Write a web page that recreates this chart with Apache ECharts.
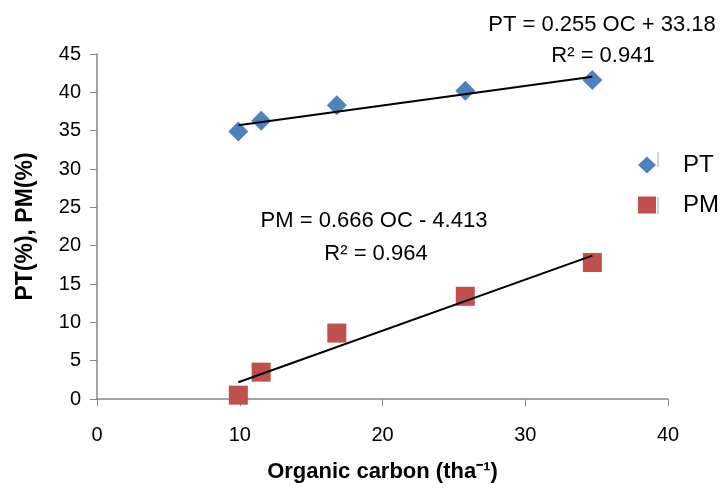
<!DOCTYPE html>
<html>
<head>
<meta charset="utf-8">
<script src="https://cdn.jsdelivr.net/npm/echarts@6/dist/echarts.min.js"></script>
<style>
  html, body { margin: 0; padding: 0; background: #fff; }
  #chart { width: 724px; height: 488px; }
</style>
</head>
<body>
<div id="chart"></div>
<script>
var oc = [9.9, 11.5, 16.8, 25.8, 34.7];
var pt = [34.9, 36.3, 38.3, 40.2, 41.6];
var pm = [0.5, 3.5, 8.6, 13.4, 17.8];
var xTicks = [0, 10, 20, 30, 40];
var yTicks = [0, 5, 10, 15, 20, 25, 30, 35, 40, 45];

// trend lines from the fitted equations
var ptFit = { a: 0.255, b: 33.18 };
var pmFit = { a: 0.666, b: -4.413 };
var x0 = oc[0], x1 = oc[oc.length - 1];
function fitLine(f) {
    return [[x0, f.a * x0 + f.b], [x1, f.a * x1 + f.b]];
}

var font = 'Liberation Sans';
function eqText(txt, x, y) {
    return {
        type: 'text', x: x, y: y,
        style: { text: txt, fontSize: 22, fill: '#000', fontFamily: font, align: 'center', verticalAlign: 'middle' }
    };
}
function grayTick(y0, y1) {
    return {
        type: 'line',
        shape: { x1: 658, y1: y0, x2: 658, y2: y1 },
        style: { stroke: '#A6A6A6', lineWidth: 1 }
    };
}

var myChart = echarts.init(document.getElementById('chart'));
var option = {
    animation: false,
    textStyle: { fontFamily: font },
    grid: { left: 97, right: 56, top: 54, bottom: 88 },
    legend: {
        orient: 'vertical',
        left: 633,
        top: 148,
        itemGap: 16,
        itemWidth: 18,
        itemHeight: 17,
        textStyle: { fontSize: 24, lineHeight: 24, color: '#000', fontFamily: font, padding: [0, 0, 0, 22] },
        data: [
            { name: 'PT', icon: 'diamond' },
            { name: 'PM', icon: 'rect' }
        ]
    },
    xAxis: {
        type: 'value',
        min: 0,
        max: 40,
        interval: 10,
        splitLine: { show: false },
        axisLine: { lineStyle: { color: '#868686', width: 1.5 } },
        axisTick: { show: true, length: 7, lineStyle: { color: '#868686' } },
        axisLabel: { fontSize: 20, color: '#000', margin: 26 },
        name: 'Organic carbon (tha⁻¹)',
        nameLocation: 'middle',
        nameGap: 62,
        nameTextStyle: { fontSize: 22, fontWeight: 'bold', color: '#000' }
    },
    yAxis: {
        type: 'value',
        min: 0,
        max: 45,
        interval: 5,
        splitLine: { show: false },
        axisLine: { show: true, lineStyle: { color: '#868686', width: 1.5 } },
        axisTick: { show: true, length: 7, lineStyle: { color: '#868686' } },
        axisLabel: { fontSize: 20, color: '#000', margin: 16 },
        name: 'PT(%), PM(%)',
        nameLocation: 'middle',
        nameGap: 60,
        nameTextStyle: { fontSize: 23, fontWeight: 'bold', color: '#000' }
    },
    graphic: [
        eqText('PT = 0.255 OC + 33.18', 602, 25),
        eqText('R² = 0.941', 603, 56),
        eqText('PM = 0.666 OC - 4.413', 374, 221),
        eqText('R² = 0.964', 376, 254),
        grayTick(152, 167),
        grayTick(197, 214)
    ],
    series: [
        {
            name: 'PT fit',
            type: 'line',
            data: fitLine(ptFit),
            symbol: 'none',
            lineStyle: { color: '#000', width: 2 },
            z: 3
        },
        {
            name: 'PM fit',
            type: 'line',
            data: fitLine(pmFit),
            symbol: 'none',
            lineStyle: { color: '#000', width: 2 },
            z: 3
        },
        {
            name: 'PT',
            type: 'scatter',
            symbol: 'diamond',
            symbolSize: 20,
            itemStyle: { color: '#4F81BD', opacity: 1 },
            data: oc.map(function (v, i) { return [v, pt[i]]; }),
            z: 2
        },
        {
            name: 'PM',
            type: 'scatter',
            symbol: 'rect',
            symbolSize: 19,
            itemStyle: { color: '#C0504D', opacity: 1 },
            data: oc.map(function (v, i) { return [v, pm[i]]; }),
            z: 2
        }
    ]
};
myChart.setOption(option);
</script>
</body>
</html>
